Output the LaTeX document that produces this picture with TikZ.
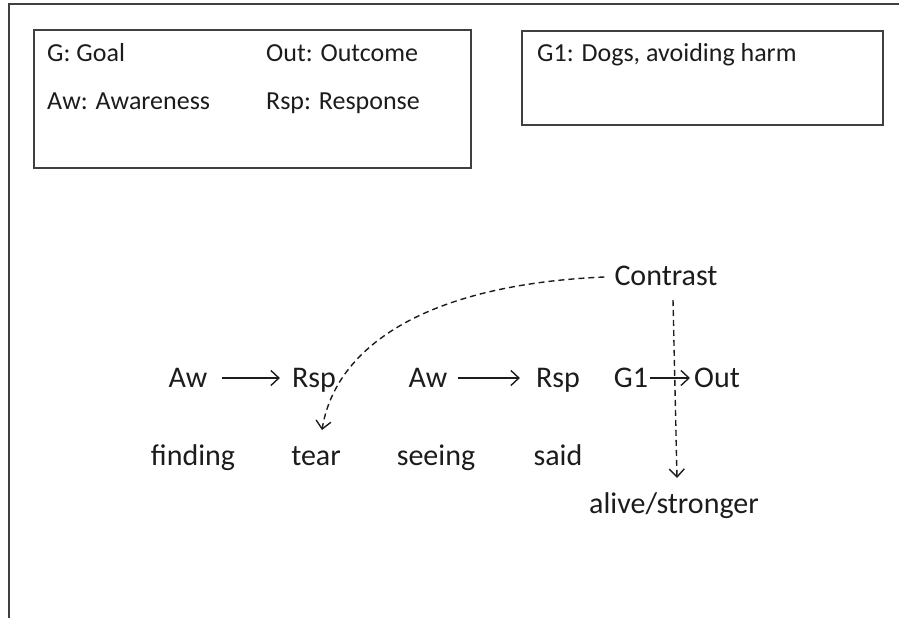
\documentclass[tikz,border=0pt]{standalone}
\usepackage{fontspec}
\setmainfont{Carlito}
\usetikzlibrary{arrows.meta}
\definecolor{ink}{HTML}{1C1C1C}
\definecolor{rule}{HTML}{404040}
\tikzset{
  lbl/.style={anchor=base west, inner sep=0pt, text=ink, font=\fontsize{26}{30}\selectfont},
  word/.style={anchor=base, inner sep=0pt, text=ink, font=\fontsize{30}{34}\selectfont},
  frame/.style={draw=rule, line width=2pt},
  link/.style={draw=ink, line width=1.4pt, -{Straight Barb[length=8pt, width=15pt, line width=1.4pt]}},
  dlink/.style={link, dash pattern=on 6pt off 4pt}
}
\begin{document}
\begin{tikzpicture}[x=1pt, y=-1pt]
  \useasboundingbox (0,0) rectangle (899,618);
  % open outer frame: top and left edges only
  \draw[frame] (899,4.5) -- (8.5,4.5) -- (8.5,618);
  % legend boxes
  \draw[frame] (34,30) rectangle (471,168);
  \draw[frame] (522,31) rectangle (883,125);
  \node[lbl] (lg) at (47,62) {G: Goal};
  \node[lbl] (lo) at (266,62) {Out: Outcome};
  \node[lbl] (la) at (47,109) {Aw: Awareness};
  \node[lbl] (lr) at (266,109) {Rsp: Response};
  \node[lbl] (lg1) at (537,62) {G1: Dogs, avoiding harm};
  % chain of elements
  \node[word] (contrast) at (666,285) {Contrast};
  \node[word] (aw1) at (188,387) {Aw};
  \node[word] (rsp1) at (314,387) {Rsp};
  \node[word] (aw2) at (428,387) {Aw};
  \node[word] (rsp2) at (558,387) {Rsp};
  \node[word] (g1) at (631,387) {G1};
  \node[word] (out) at (717,387) {Out};
  \node[word] (finding) at (193,465) {finding};
  \node[word] (tear) at (316,465) {tear};
  \node[word] (seeing) at (436,465) {seeing};
  \node[word] (said) at (558,465) {said};
  \node[word] (alive) at (674,513) {alive/stronger};
  % solid arrows
  \draw[link] ([xshift=14pt]aw1.east |- 0,378) -- ([xshift=-12pt]rsp1.west |- 0,378);
  \draw[link] ([xshift=10pt]aw2.east |- 0,378) -- ([xshift=-16pt]rsp2.west |- 0,378);
  \draw[link] ([xshift=2pt]g1.east |- 0,378) -- ([xshift=-4pt]out.west |- 0,378);
  % dashed contrast links
  \coordinate (cstart) at ([xshift=-10pt]contrast.west |- 0,277);
  \coordinate (ctear) at (322,430);
  \draw[dlink] (cstart) .. controls (420,285) and (335,350) .. (ctear);
  \coordinate (ctop) at (673,300);
  \coordinate (calive) at (677,478);
  \draw[dlink] (ctop) -- (calive);
\end{tikzpicture}
\end{document}
